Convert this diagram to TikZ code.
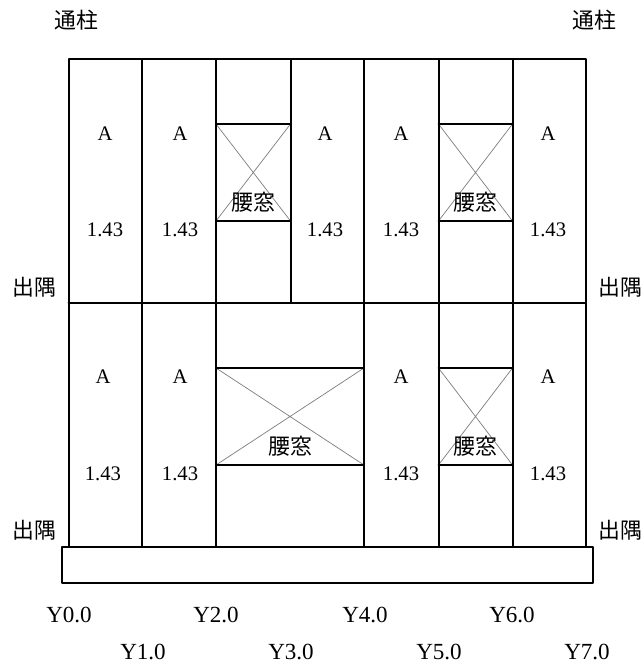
\documentclass[tikz,border=0pt]{standalone}
\usepackage{fontspec}
\setmainfont{Liberation Serif}
\newfontfamily\cjk{Noto Sans CJK JP}
\tikzset{
  wall/.style={draw=black,line width=1.5pt,line cap=round,line join=round},
  diag/.style={draw=black!50,line width=0.55pt},
  lab/.style={inner sep=0pt,font=\fontsize{15.5pt}{18pt}\selectfont},
  axis/.style={inner sep=0pt,font=\fontsize{17.3pt}{20pt}\selectfont},
  kanji/.style={inner sep=0pt,font=\cjk\fontsize{16.4pt}{18pt}\selectfont}
}
\begin{document}
\begin{tikzpicture}[x=0.75pt,y=-0.75pt]
\useasboundingbox (0,0) rectangle (642,665);
% grid coordinates
\foreach \n/\x in {0/68.5,1/142,2/216,3/290.5,4/364,5/438.5,6/512.5,7/586}{
  \coordinate (t\n) at (\x,59);
  \coordinate (m\n) at (\x,303);
  \coordinate (b\n) at (\x,547);
  \coordinate (ua\n) at (\x,124);
  \coordinate (ub\n) at (\x,221);
  \coordinate (la\n) at (\x,368);
  \coordinate (lb\n) at (\x,465);
}
% window crosses
\draw[diag] (ua2) -- (ub3) (ub2) -- (ua3);
\draw[diag] (ua5) -- (ub6) (ub5) -- (ua6);
\draw[diag] (la2) -- (lb4) (lb2) -- (la4);
\draw[diag] (la5) -- (lb6) (lb5) -- (la6);
% walls
\draw[wall] (t0) rectangle (b7);
\draw[wall] (m0) -- (m7);
\foreach \n in {1,2,3,4,5,6} \draw[wall] (t\n) -- (m\n);
\foreach \n in {1,2,4,5,6} \draw[wall] (m\n) -- (b\n);
% window sills and heads
\draw[wall] (ua2) -- (ua3) (ub2) -- (ub3);
\draw[wall] (ua5) -- (ua6) (ub5) -- (ub6);
\draw[wall] (la2) -- (la4) (lb2) -- (lb4);
\draw[wall] (la5) -- (la6) (lb5) -- (lb6);
% foundation
\coordinate (f1) at (62,547);
\coordinate (f2) at (593,583);
\draw[wall] (f1) rectangle (f2);
% labels
\foreach \i/\x in {1/105,2/180,3/325,4/401,5/548}{
  \node[lab] (ua\i lab) at (\x,133.5) {A};
  \node[lab] (un\i lab) at (\x,230) {1.43};
}
\foreach \i/\x in {1/103,2/180,3/401,4/548}{
  \node[lab] (la\i lab) at (\x,376.5) {A};
  \node[lab] (ln\i lab) at (\x,474) {1.43};
}
\node[kanji] (w1) at (253,202) {腰窓};
\node[kanji] (w2) at (475,202) {腰窓};
\node[kanji] (w3) at (290,446) {腰窓};
\node[kanji] (w4) at (475,446) {腰窓};
\node[kanji] (c1) at (76,20) {通柱};
\node[kanji] (c2) at (594,20) {通柱};
\node[kanji] (d1) at (34.5,287) {出隅};
\node[kanji] (d2) at (620,287) {出隅};
\node[kanji] (d3) at (34.5,530) {出隅};
\node[kanji] (d4) at (620,530) {出隅};
\foreach \t/\x/\y in {Y0.0/69/615,Y1.0/143/652,Y2.0/216/615,Y3.0/291/652,Y4.0/365/615,Y5.0/439/652,Y6.0/512/615,Y7.0/587/652}{
  \node[axis] (n\t) at (\x,\y) {\t};
}
\end{tikzpicture}
\end{document}
